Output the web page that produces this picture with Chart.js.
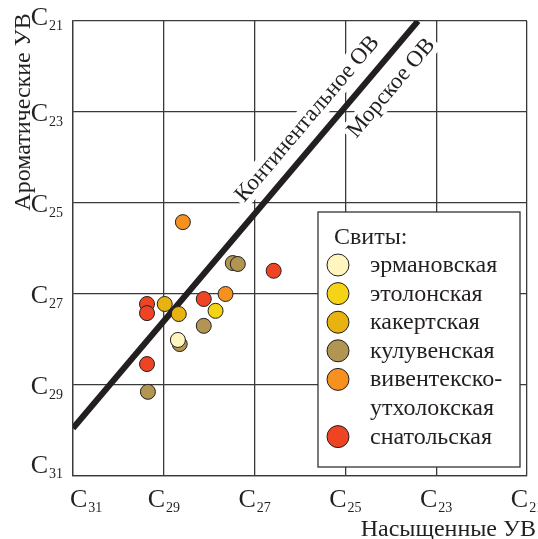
<!DOCTYPE html>
<html>
<head>
<meta charset="utf-8">
<script src="https://cdn.jsdelivr.net/npm/chart.js@4.4.1/dist/chart.umd.min.js"></script>
<style>
  html, body { margin: 0; padding: 0; background: #fff; }
  #wrap { width: 538px; height: 539px; position: relative; }
</style>
</head>
<body>
<div id="wrap"><canvas id="chart"></canvas></div>
<script>
// ==========================================
// Data
// ==========================================
const tickValues = [-31, -29, -27, -25, -23, -21];
const tickSubs = ['31', '29', '27', '25', '23', '21'];

const formations = ['эрмановская', 'этолонская', 'какертская', 'кулувенская', 'вивентекско-утхолокская', 'снатольская'];

// насыщенные (x) / ароматические (y)
const satErmanov = [-28.69];
const aroErmanov = [-28.01];
const satEtolon = [-27.86];
const aroEtolon = [-27.37];
const satKakert = [-28.98, -28.67];
const aroKakert = [-27.22, -27.44];
const satKuluven = [-27.48, -27.37, -28.12, -28.65, -29.35];
const aroKuluven = [-26.32, -26.34, -27.70, -28.10, -29.15];
const satViventek = [-28.58, -27.64];
const aroViventek = [-25.42, -27.00];
const satSnatol = [-26.58, -29.37, -29.37, -28.12, -29.37];
const aroSnatol = [-26.49, -27.22, -27.42, -27.11, -28.54];

// граница континентальное / морское ОВ
const ovLineSat = [-31, -23.4];
const ovLineAro = [-29.95, -21];

// styles
const colors = ['#fff6bf', '#f5d316', '#e8b310', '#b29552', '#f6911f', '#ee4423'];
const SERIF = '"Liberation Serif", "DejaVu Serif", serif';
const INK = '#231f20';

const pairs = (xs, ys) => xs.map((x, i) => ({ x: x, y: ys[i] }));
const seriesData = [
    pairs(satErmanov, aroErmanov),
    pairs(satEtolon, aroEtolon),
    pairs(satKakert, aroKakert),
    pairs(satKuluven, aroKuluven),
    pairs(satViventek, aroViventek),
    pairs(satSnatol, aroSnatol)
];

const datasets = formations.map((name, i) => ({
    label: name,
    data: seriesData[i],
    backgroundColor: colors[i],
    borderColor: INK,
    borderWidth: 1,
    pointRadius: 7.5,
    order: 1
}));

datasets.push({
    label: 'OV line',
    data: pairs(ovLineSat, ovLineAro),
    showLine: true,
    borderColor: INK,
    borderWidth: 6,
    pointRadius: 0,
    borderCapStyle: 'butt',
    order: 5 // рисуется под точками
});

// ==========================================
// Custom drawing: ticks C_nn, titles, labels on line, legend
// ==========================================
const overlay = {
    id: 'overlay',
    beforeDatasetsDraw(chart) {
        const ctx = chart.ctx;
        const xs = chart.scales.x, ys = chart.scales.y;
        const p0 = { x: xs.getPixelForValue(ovLineSat[0]), y: ys.getPixelForValue(ovLineAro[0]) };
        const p1 = { x: xs.getPixelForValue(ovLineSat[1]), y: ys.getPixelForValue(ovLineAro[1]) };
        const dx = p1.x - p0.x, dy = p1.y - p0.y;
        const len = Math.hypot(dx, dy);
        const ux = dx / len, uy = dy / len;
        const nx = uy, ny = -ux; // нормаль вверх-влево
        const ang = Math.atan2(dy, dx);
        const footAt = (aro) => {
            const py = ys.getPixelForValue(aro);
            const t = (py - p0.y) / dy;
            return { x: p0.x + t * dx, y: py };
        };
        const label = (text, foot, off) => {
            const cx = foot.x + nx * off, cy = foot.y + ny * off;
            ctx.save();
            ctx.translate(cx, cy);
            ctx.rotate(ang);
            ctx.font = '23px ' + SERIF;
            const w = ctx.measureText(text).width;
            ctx.fillStyle = '#fff';
            ctx.fillRect(-w / 2 - 3, -13, w + 6, 25);
            ctx.fillStyle = INK;
            ctx.textAlign = 'center';
            ctx.textBaseline = 'middle';
            ctx.fillText(text, 0, 0);
            ctx.restore();
        };
        label('Континентальное ОВ', footAt(-23.45), 21);
        label('Морское ОВ', footAt(-22.15), -23);
    },
    afterDraw(chart) {
        const ctx = chart.ctx;
        const xs = chart.scales.x, ys = chart.scales.y;
        ctx.save();
        ctx.fillStyle = INK;
        ctx.textBaseline = 'alphabetic';
        ctx.textAlign = 'left';

        // x ticks
        tickValues.forEach((v, i) => {
            const gx = xs.getPixelForValue(v);
            ctx.font = '26px ' + SERIF;
            const wc = ctx.measureText('C').width;
            ctx.font = '14px ' + SERIF;
            const ws = ctx.measureText(tickSubs[i]).width;
            let start = gx - (wc + ws + 1) / 2;
            if (i === 0) start = gx - 3;
            ctx.font = '26px ' + SERIF;
            ctx.fillText('C', start, 507);
            ctx.font = '14px ' + SERIF;
            ctx.fillText(tickSubs[i], start + wc + 1, 512);
        });

        // y ticks
        tickValues.forEach((v, i) => {
            let gy = ys.getPixelForValue(v);
            if (i === 0) gy -= 12;
            if (i === tickValues.length - 1) gy -= 5;
            ctx.font = '14px ' + SERIF;
            const ws = ctx.measureText(tickSubs[i]).width;
            ctx.fillText(tickSubs[i], 63 - ws, gy + 14);
            ctx.font = '26px ' + SERIF;
            const wc = ctx.measureText('C').width;
            ctx.fillText('C', 63 - ws - 1 - wc, gy + 9);
        });

        // axis titles
        ctx.font = '24px ' + SERIF;
        ctx.textAlign = 'right';
        ctx.fillText('Насыщенные УВ', 536, 536);
        ctx.save();
        ctx.translate(30, 112);
        ctx.rotate(-Math.PI / 2);
        ctx.textAlign = 'center';
        ctx.fillText('Ароматические УВ', 0, 0);
        ctx.restore();

        // legend
        const bx = 318, by = 212, bw = 202, bh = 255;
        ctx.fillStyle = '#fff';
        ctx.fillRect(bx, by, bw, bh);
        ctx.strokeStyle = '#333';
        ctx.lineWidth = 1.3;
        ctx.strokeRect(bx, by, bw, bh);
        ctx.fillStyle = INK;
        ctx.textAlign = 'left';
        ctx.font = '24px ' + SERIF;
        ctx.fillText('Свиты:', 334, 244);
        let rowY = 265;
        formations.forEach((name, i) => {
            ctx.beginPath();
            ctx.arc(338, rowY, 11, 0, Math.PI * 2);
            ctx.fillStyle = colors[i];
            ctx.fill();
            ctx.strokeStyle = INK;
            ctx.lineWidth = 1;
            ctx.stroke();
            ctx.fillStyle = INK;
            const parts = name.includes('-') ? [name.split('-')[0] + '-', name.split('-')[1]] : [name];
            parts.forEach((p, k) => {
                ctx.fillText(p, 370, rowY + 7 + k * 28.6);
            });
            rowY += 28.6 * parts.length;
        });
        ctx.restore();
    }
};

new Chart(document.getElementById('chart'), {
    type: 'scatter',
    data: { datasets: datasets },
    options: {
        responsive: true,
        maintainAspectRatio: false,
        animation: false,
        layout: { padding: { top: 21, right: 11, left: 0, bottom: 0 } },
        plugins: {
            legend: { display: false },
            tooltip: { enabled: false }
        },
        scales: {
            x: {
                type: 'linear',
                min: -31,
                max: -21,
                afterFit: (s) => { s.height = 63; },
                afterBuildTicks: (s) => { s.ticks = tickValues.map(v => ({ value: v })); },
                ticks: { display: false },
                grid: { color: '#3a3a3a', lineWidth: 1.3, drawTicks: false },
                border: { color: '#3a3a3a', width: 1.3 }
            },
            y: {
                type: 'linear',
                min: -31,
                max: -21,
                afterFit: (s) => { s.width = 73; },
                afterBuildTicks: (s) => { s.ticks = tickValues.map(v => ({ value: v })); },
                ticks: { display: false },
                grid: { color: '#3a3a3a', lineWidth: 1.3, drawTicks: false },
                border: { color: '#3a3a3a', width: 1.3 }
            }
        }
    },
    plugins: [overlay]
});
</script>
</body>
</html>
